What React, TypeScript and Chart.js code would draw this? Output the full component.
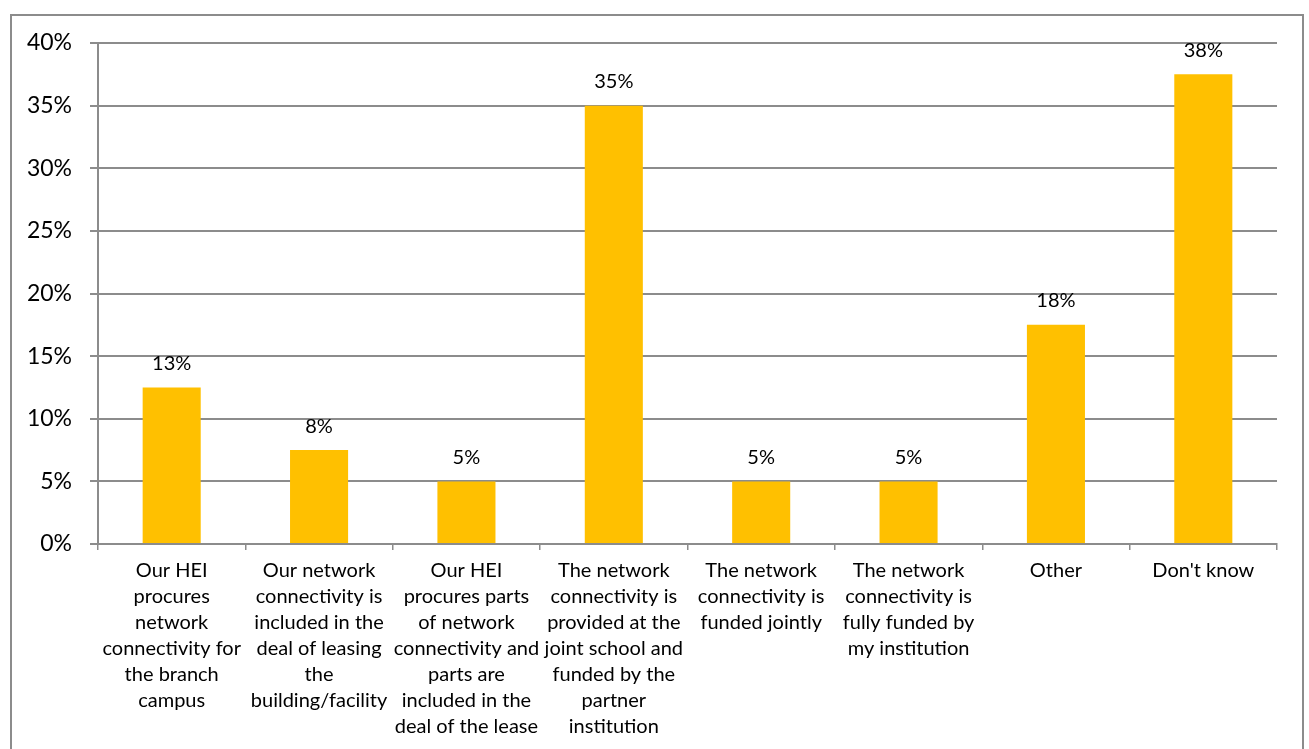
import { useEffect, useRef } from "react";
import { Chart, registerables } from "chart.js";

Chart.register(...registerables);

const categories: string[][] = [
  ["Our HEI", "procures", "network", "connectivity for", "the branch", "campus"],
  ["Our network", "connectivity is", "included in the", "deal of leasing", "the", "building/facility"],
  ["Our HEI", "procures parts", "of network", "connectivity and", "parts are", "included in the", "deal of the lease"],
  ["The network", "connectivity is", "provided at the", "joint school and", "funded by the", "partner", "institution"],
  ["The network", "connectivity is", "funded jointly"],
  ["The network", "connectivity is", "fully funded by", "my institution"],
  ["Other"],
  ["Don't know"],
];
const values = [12.5, 7.5, 5, 35, 5, 5, 17.5, 37.5];
const yMin = 0;
const yMax = 40;
const yStep = 5;

const FONT = "Lato";

const valueLabelPlugin = {
  id: "valueLabels",
  afterDatasetsDraw(chart: any) {
    const ctx = chart.ctx;
    const meta = chart.getDatasetMeta(0);
    ctx.save();
    ctx.font = `20px ${FONT}`;
    ctx.fillStyle = "#000";
    ctx.textAlign = "center";
    ctx.textBaseline = "middle";
    meta.data.forEach((bar: any, i: number) => {
      const v = values[i];
      ctx.fillText(Math.round(v) + "%", bar.x, bar.y - 24);
    });
    ctx.restore();
  },
};

export default function App() {
  const ref = useRef<HTMLCanvasElement | null>(null);
  useEffect(() => {
    if (!ref.current) return;
    const chart = new Chart(ref.current, {
      type: "bar",
      data: {
        labels: categories,
        datasets: [
          {
            data: values,
            backgroundColor: "#FFC000",
            barPercentage: 0.394,
            categoryPercentage: 1,
          },
        ],
      },
      options: {
        animation: false,
        responsive: false,
        maintainAspectRatio: false,
        layout: { padding: { left: 0, top: 43, right: 32, bottom: 0 } },
        plugins: {
          legend: { display: false },
          tooltip: { enabled: false },
        },
        scales: {
          x: {
            grid: {
              offset: true,
              drawOnChartArea: false,
              drawTicks: true,
              tickLength: 6,
              color: "#8c8c8c",
              lineWidth: 1.5,
            },
            border: { color: "#8c8c8c", width: 2 },
            ticks: {
              color: "#000",
              font: { family: FONT, size: 20, lineHeight: 1.3 },
              padding: 8,
              maxRotation: 0,
              minRotation: 0,
              autoSkip: false,
            },
            afterFit: (scale: any) => {
              scale.height = 749 - 544;
            },
          },
          y: {
            min: yMin,
            max: yMax,
            ticks: {
              stepSize: yStep,
              color: "#000",
              font: { family: FONT, size: 23 },
              padding: 18,
              callback: (v: any) => v + "%",
            },
            grid: {
              color: "#8c8c8c",
              lineWidth: 2,
              tickLength: 8,
              drawTicks: true,
            },
            border: { color: "#8c8c8c", width: 2 },
            afterFit: (scale: any) => {
              scale.width = 98;
            },
          },
        },
      },
      plugins: [valueLabelPlugin],
    });
    return () => chart.destroy();
  }, []);
  return (
    <div style={{ position: "fixed", left: 0, top: 0, width: 1309, height: 749, background: "#fff" }}>
      <div
        style={{
          position: "absolute",
          left: 10,
          top: 14,
          width: 1294,
          height: 750,
          border: "2px solid #8c8c8c",
          boxSizing: "border-box",
        }}
      />
      <canvas ref={ref} width={1309} height={749} style={{ position: "absolute", left: 0, top: 0 }} />
    </div>
  );
}
